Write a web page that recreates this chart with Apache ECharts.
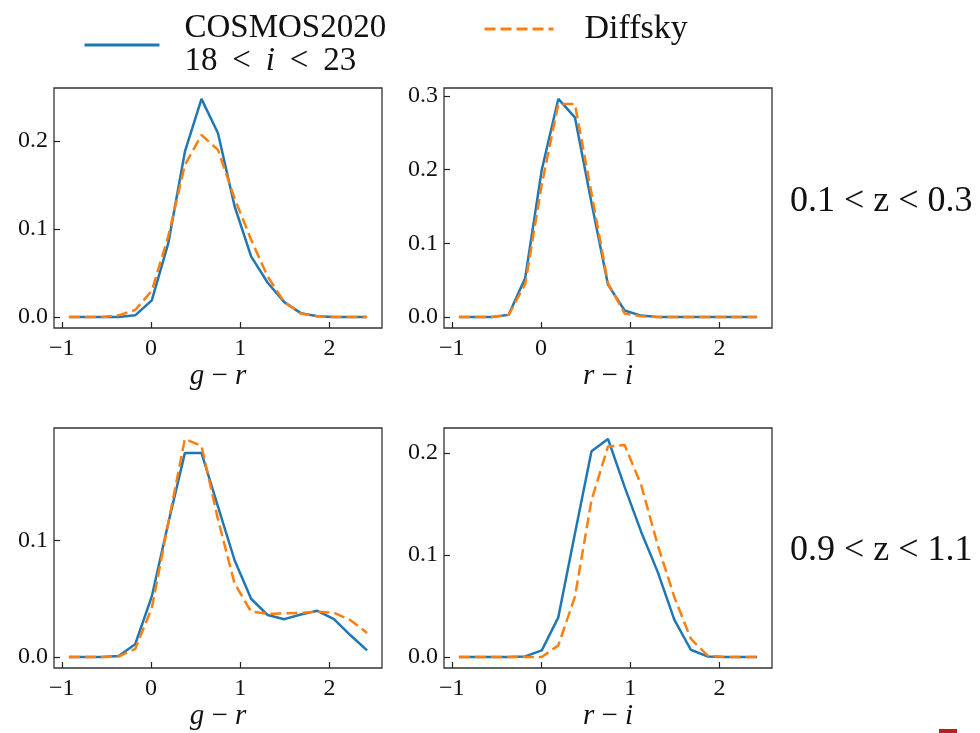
<!DOCTYPE html>
<html>
<head>
<meta charset="utf-8">
<script src="https://cdn.jsdelivr.net/npm/echarts@6/dist/echarts.min.js"></script>
<style>
html,body{margin:0;padding:0;background:#fff;}
#chart{width:980px;height:733px;}
</style>
</head>
<body>
<div id="chart"></div>
<script>
// ---- data ----
const binCenters = [-0.92, -0.734, -0.549, -0.363, -0.177, 0.009, 0.194, 0.38, 0.566, 0.751, 0.937, 1.122, 1.308, 1.494, 1.679, 1.865, 2.051, 2.236, 2.422];

const grCosmosLowZ  = [0, 0, 0, 0, 0.002, 0.019, 0.084, 0.188, 0.248, 0.209, 0.126, 0.069, 0.039, 0.017, 0.0045, 0.001, 0, 0, 0];
const grDiffskyLowZ = [0, 0, 0, 0.002, 0.008, 0.03, 0.092, 0.173, 0.207, 0.19, 0.135, 0.088, 0.046, 0.017, 0.004, 0.001, 0, 0, 0];

const riCosmosLowZ  = [0, 0, 0, 0.003, 0.053, 0.2, 0.296, 0.271, 0.155, 0.044, 0.009, 0.002, 0, 0, 0, 0, 0, 0, 0];
const riDiffskyLowZ = [0, 0, 0, 0.003, 0.045, 0.18, 0.289, 0.289, 0.168, 0.046, 0.005, 0.001, 0, 0, 0, 0, 0, 0, 0];

const grCosmosHighZ  = [0, 0, 0, 0.001, 0.011, 0.052, 0.115, 0.175, 0.175, 0.129, 0.083, 0.05, 0.036, 0.0325, 0.0365, 0.0397, 0.0325, 0.0187, 0.0057];
const grDiffskyHighZ = [0, 0, 0, 0.0005, 0.007, 0.042, 0.115, 0.187, 0.181, 0.118, 0.063, 0.039, 0.037, 0.0374, 0.038, 0.039, 0.038, 0.0316, 0.0207];

const riCosmosHighZ  = [0, 0, 0, 0, 0.0007, 0.0066, 0.039, 0.121, 0.202, 0.214, 0.167, 0.123, 0.0836, 0.0367, 0.0072, 0.0007, 0, 0, 0];
const riDiffskyHighZ = [0, 0, 0, 0, 0, 0, 0.0115, 0.059, 0.154, 0.2066, 0.208, 0.169, 0.11, 0.059, 0.018, 0.0016, 0, 0, 0];

const xTicks = [-1, 0, 1, 2];
const yTicksPanels = [[0, 0.1, 0.2], [0, 0.1, 0.2, 0.3], [0, 0.1], [0, 0.1, 0.2]];
const xAxisNames = ['{i|g} \u2212 {i|r}', '{i|r} \u2212 {i|i}', '{i|g} \u2212 {i|r}', '{i|r} \u2212 {i|i}'];
const rowLabels = ['0.1 < z < 0.3', '0.9 < z < 1.1'];
const seriesNames = ['COSMOS2020', 'Diffsky'];

// ---- layout ----
const panels = [
  {left: 54,  top: 88,  cosmos: grCosmosLowZ,  diff: grDiffskyLowZ},
  {left: 444, top: 88,  cosmos: riCosmosLowZ,  diff: riDiffskyLowZ},
  {left: 54,  top: 428, cosmos: grCosmosHighZ, diff: grDiffskyHighZ},
  {left: 444, top: 428, cosmos: riCosmosHighZ, diff: riDiffskyHighZ}
];
const W = 328, H = 240;
const BLUE = '#1f77b4', ORANGE = '#ff7f0e';
const SERIF = '"Liberation Serif", "DejaVu Serif", serif';

const xMin = binCenters[0], xMax = binCenters[binCenters.length - 1];
const xPad = 0.05 * (xMax - xMin);

const grid = [], xAxis = [], yAxis = [], series = [];
panels.forEach((p, i) => {
  grid.push({left: p.left, top: p.top, width: W, height: H, show: true,
    borderColor: '#333', borderWidth: 1.3, backgroundColor: 'transparent'});
  const yMaxData = Math.max(...p.cosmos, ...p.diff);
  const yPad = 0.05 * yMaxData;
  xAxis.push({
    type: 'value', gridIndex: i, min: xMin - xPad, max: xMax + xPad,
    axisLine: {show: false, onZero: false},
    splitLine: {show: false},
    axisTick: {show: true, inside: true, length: 6, lineStyle: {color: '#222', width: 1.2}, customValues: xTicks},
    axisLabel: {customValues: xTicks, margin: 9, color: '#111', fontSize: 24, fontFamily: SERIF,
      formatter: v => (v < 0 ? '\u2212' + Math.abs(v) : String(v))},
    name: xAxisNames[i], nameLocation: 'middle', nameGap: 31,
    nameTextStyle: {fontSize: 29, fontFamily: SERIF, color: '#111',
      rich: {i: {fontSize: 29, fontStyle: 'italic', fontFamily: SERIF, color: '#111'}}}
  });
  yAxis.push({
    type: 'value', gridIndex: i, min: -yPad, max: yMaxData + yPad,
    axisLine: {show: false, onZero: false},
    splitLine: {show: false},
    axisTick: {show: true, inside: true, length: 6, lineStyle: {color: '#222', width: 1.2}, customValues: yTicksPanels[i]},
    axisLabel: {customValues: yTicksPanels[i], margin: 6, color: '#111', fontSize: 24, fontFamily: SERIF,
      formatter: v => v.toFixed(1)}
  });
  series.push({
    type: 'line', name: seriesNames[0], xAxisIndex: i, yAxisIndex: i,
    data: binCenters.map((x, k) => [x, p.cosmos[k]]),
    symbol: 'none', lineStyle: {color: BLUE, width: 2.5}, itemStyle: {color: BLUE}, z: 2, animation: false
  });
  series.push({
    type: 'line', name: seriesNames[1], xAxisIndex: i, yAxisIndex: i,
    data: binCenters.map((x, k) => [x, p.diff[k]]),
    symbol: 'none', lineStyle: {color: ORANGE, width: 2.5, type: [11, 5]}, itemStyle: {color: ORANGE}, z: 3, animation: false
  });
});

const chart = echarts.init(document.getElementById('chart'), null, {renderer: 'canvas'});
chart.setOption({
  backgroundColor: '#fff',
  animation: false,
  grid, xAxis, yAxis, series,
  legend: [
    {data: [seriesNames[0]], left: 83, top: 12, padding: 0, itemWidth: 75, itemHeight: 14,
      selectedMode: false, itemStyle: {opacity: 0},
      lineStyle: {width: 3},
      formatter: () => '{a|COSMOS2020}\n{a|18 \u2009<\u2009 }{i|i}{a| \u2009<\u2009 23}',
      textStyle: {padding: [0, 0, 0, 20], lineHeight: 33,
        rich: {a: {fontSize: 33, fontFamily: SERIF, color: '#111', lineHeight: 33},
               i: {fontSize: 33, fontFamily: SERIF, fontStyle: 'italic', color: '#111', lineHeight: 33}}}},
    {data: [seriesNames[1]], left: 483, top: 12, padding: 0, itemWidth: 69, itemHeight: 14,
      selectedMode: false, itemStyle: {opacity: 0},
      lineStyle: {width: 3},
      textStyle: {padding: [0, 0, 0, 26], fontSize: 34, fontFamily: SERIF, color: '#111', lineHeight: 34}}
  ],
  graphic: [
    {type: 'text', x: 790, y: 202, style: {text: rowLabels[0], fontSize: 36, fontFamily: SERIF, fill: '#111', verticalAlign: 'middle'}},
    {type: 'text', x: 790, y: 551, style: {text: rowLabels[1], fontSize: 36, fontFamily: SERIF, fill: '#111', verticalAlign: 'middle'}},
    {type: 'rect', shape: {x: 939, y: 729, width: 18, height: 4}, style: {fill: '#b22222'}}
  ]
});
</script>
</body>
</html>
